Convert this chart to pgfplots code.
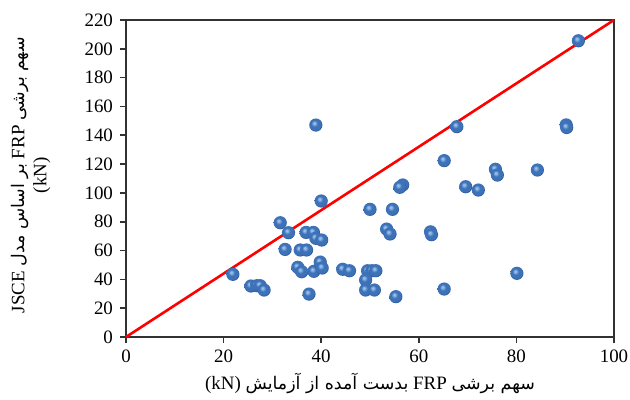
\documentclass[border=0pt]{standalone}
\usepackage{fontspec}
\setmainfont{Liberation Serif}
\newfontfamily\arabicfont[Script=Arabic,Scale=0.92]{DejaVu Sans}
\TeXXeTstate=1
\usepackage{pgfplots}
\pgfplotsset{compat=1.18}
\definecolor{ballblue}{RGB}{62,114,184}
\definecolor{ballhi}{RGB}{150,190,235}
\definecolor{balldark}{RGB}{28,64,120}
\definecolor{axisgray}{RGB}{50,50,50}
\pgfdeclareradialshading{myball}{\pgfpoint{-7bp}{8bp}}{color(0bp)=(ballhi); color(3bp)=(ballhi); color(12bp)=(ballblue); color(22bp)=(ballblue); color(32bp)=(balldark); color(50bp)=(balldark)}
\pgfdeclareplotmark{myball}{\pgfpathcircle{\pgfpointorigin}{\pgfplotmarksize}\pgfshadepath{myball}{0}\pgfusepath{}}
\pgfplotstableread{
x y
21.9 43.5
25.6 35.4
26.8 35.6
27.5 35.6
28.3 32.6
31.6 79.3
33.3 72.4
32.6 60.8
36.9 72.6
38.4 72.6
38.9 68.5
40.1 67.3
35.7 60.4
37.0 60.4
35.2 48.4
36.0 45.3
38.5 45.6
39.8 52.0
40.2 47.9
37.5 29.8
40.0 94.4
38.9 147.1
44.4 47.0
45.8 46.0
50.0 88.6
54.6 88.6
53.4 74.9
54.1 71.5
62.4 73.0
62.6 71.0
49.5 46.0
50.4 46.0
51.2 46.0
49.1 39.6
49.1 32.6
50.9 32.6
55.3 28.0
65.2 33.3
56.7 105.5
56.1 103.9
69.6 104.3
72.2 102.0
80.1 44.2
92.7 205.6
67.8 146.0
90.2 147.2
90.3 145.4
65.2 122.4
75.7 116.4
76.1 112.4
84.3 115.9
}\pts
\begin{document}
\begin{tikzpicture}
\useasboundingbox (0,0) rectangle (315bp,200bp);
\begin{axis}[
  at={(63bp,31.5bp)}, anchor=south west,
  scale only axis, width=244bp, height=158.5bp,
  xmin=0, xmax=100, ymin=0, ymax=220,
  xtick={0,20,...,100}, ytick={0,20,...,220},
  tick align=outside, major tick length=3bp,
  xtick pos=bottom, ytick pos=left,
  axis line style={axisgray, line width=1bp},
  every tick/.style={axisgray, line width=0.8bp},
  font=\fontsize{9.5}{11}\selectfont,
  /pgf/number format/assume math mode=true,
  xlabel={\beginR{\arabicfont سهم برشی}\ \beginL FRP\endL\ {\arabicfont بدست آمده از  آزمایش}\ \beginL(kN)\endL\endR},
  ylabel={\beginR{\arabicfont سهم برشی}\ \beginL FRP\endL\ {\arabicfont بر اساس مدل}\ \beginL JSCE\endL\endR\\(kN)},
  xlabel style={at={(axis description cs:0.5,-0.148)}, anchor=center},
  ylabel style={at={(axis description cs:-0.195,0.51)}, anchor=center, align=center},
  clip=false,
]
\addplot[red, line width=1.3bp, no marks] coordinates {(0,0) (100,220)};
\addplot[only marks, mark=myball, mark size=3.3bp] table[x=x,y=y] {\pts};
\end{axis}
\end{tikzpicture}
\end{document}
